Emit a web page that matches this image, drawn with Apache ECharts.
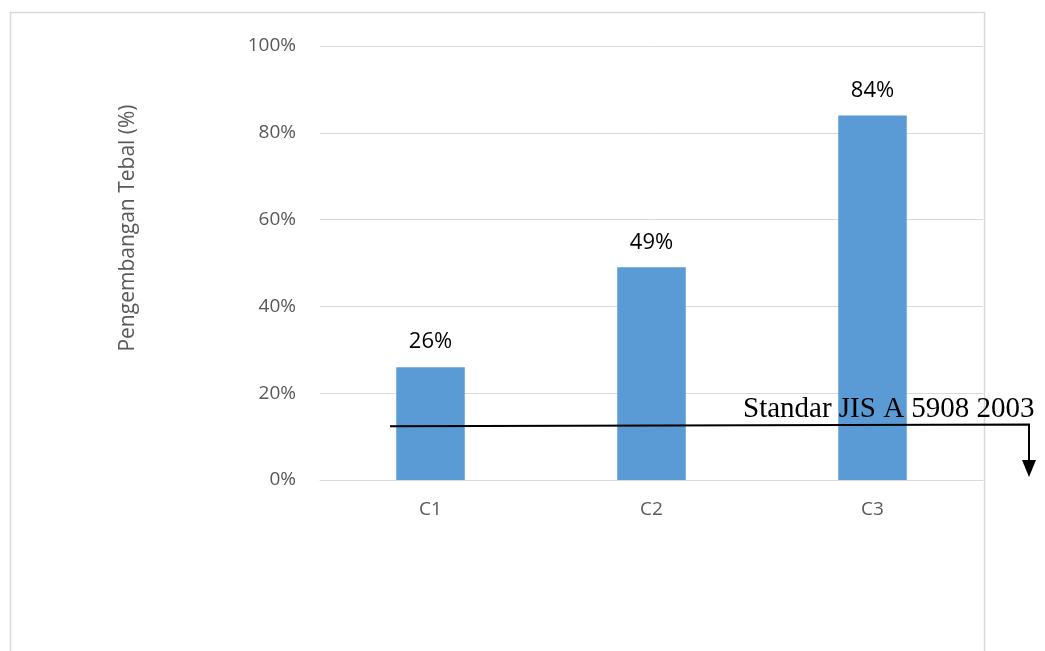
<!DOCTYPE html>
<html>
<head>
<meta charset="utf-8">
<script src="https://cdn.jsdelivr.net/npm/echarts@6/dist/echarts.min.js"></script>
<style>
  html, body { margin: 0; padding: 0; background: #ffffff; }
  #chart { width: 1045px; height: 651px; }
</style>
</head>
<body>
<div id="chart"></div>
<script>
// Samples and their thickness swelling (%)
const categories = ['C1', 'C2', 'C3'];
const swelling = [26, 49, 84];
const yTicks = [0, 20, 40, 60, 80, 100];
// Reference level of the JIS A 5908 2003 standard line (% at its left and right ends)
const standardStart = 12.4;
const standardEnd = 12.8;
const standardLabel = 'Standar JIS A 5908 2003';

const chart = echarts.init(document.getElementById('chart'), null, { renderer: 'canvas' });
const sans = '"Open Sans", "Liberation Sans", sans-serif';

chart.setOption({
  animation: false,
  backgroundColor: '#ffffff',
  grid: { left: 320, right: 62, top: 46, bottom: 171 },
  xAxis: {
    type: 'category',
    data: categories,
    axisLine: { show: true, lineStyle: { color: '#d9d9d9', width: 1 } },
    axisTick: { show: false },
    axisLabel: { color: '#595959', fontSize: 19, fontFamily: sans, margin: 20 }
  },
  yAxis: {
    type: 'value',
    min: yTicks[0],
    max: yTicks[yTicks.length - 1],
    interval: yTicks[1] - yTicks[0],
    axisLine: { show: false },
    axisTick: { show: false },
    splitLine: { lineStyle: { color: '#d9d9d9', width: 1 } },
    axisLabel: { color: '#595959', fontSize: 19, fontFamily: sans, margin: 24, formatter: '{value}%' }
  },
  series: [{
    type: 'bar',
    data: swelling,
    barWidth: '31%',
    itemStyle: { color: '#5b9bd5' },
    label: {
      show: true,
      position: 'top',
      distance: 14,
      color: '#000000',
      fontSize: 22,
      fontFamily: sans,
      formatter: p => p.value + '%'
    }
  }]
});

// Outer frame, axis title and the standard annotation
const yL = chart.convertToPixel({ yAxisIndex: 0 }, standardStart);
const yR = chart.convertToPixel({ yAxisIndex: 0 }, standardEnd);
const y0 = chart.convertToPixel({ yAxisIndex: 0 }, 0);
const xLeft = 390, xRight = 1029;

chart.setOption({
  graphic: [
    {
      type: 'rect',
      shape: { x: 10.5, y: 12.5, width: 974, height: 700 },
      style: { fill: 'none', stroke: '#d9d9d9', lineWidth: 1.5 },
      silent: true, z: 0
    },
    {
      type: 'text',
      x: 128, y: 228,
      rotation: Math.PI / 2,
      style: {
        text: 'Pengembangan Tebal (%)',
        fill: '#595959',
        font: '21px ' + sans,
        align: 'center',
        verticalAlign: 'middle'
      }
    },
    {
      type: 'polyline',
      shape: { points: [[xLeft, yL], [xRight, yR], [xRight, y0 - 18]] },
      style: { stroke: '#000000', lineWidth: 2, fill: 'none' },
      z: 10
    },
    {
      type: 'polygon',
      shape: { points: [[xRight - 7, y0 - 20], [xRight + 7, y0 - 20], [xRight, y0 - 3]] },
      style: { fill: '#000000' },
      z: 10
    },
    {
      type: 'text',
      x: 743, y: 395,
      style: {
        text: standardLabel,
        fill: '#000000',
        font: '29px "Liberation Serif", "Times New Roman", serif',
        align: 'left',
        verticalAlign: 'alphabetic'
      },
      z: 11
    }
  ]
});
</script>
</body>
</html>
